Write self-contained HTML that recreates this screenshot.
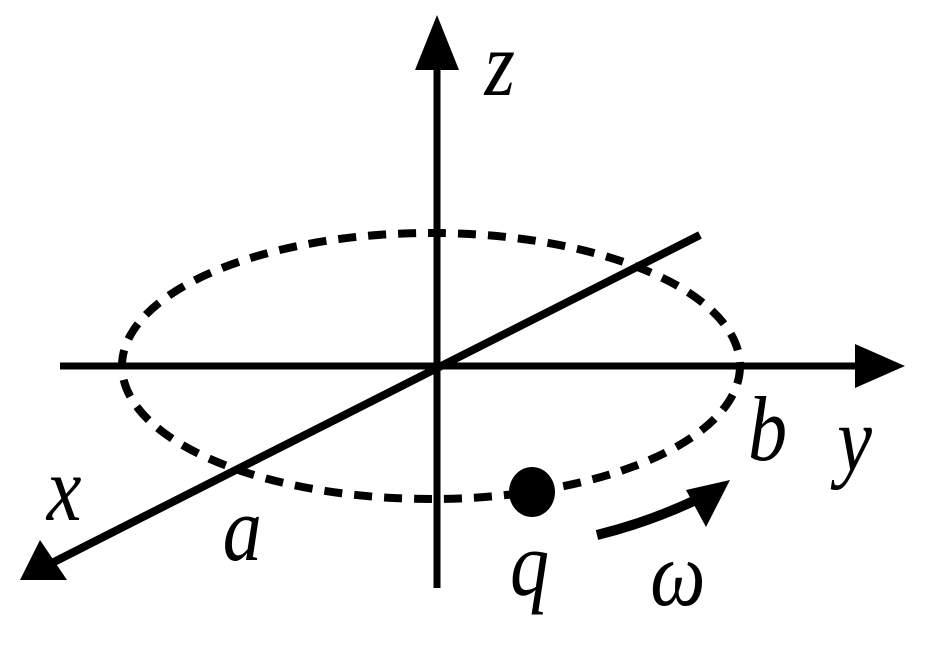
<!DOCTYPE html>
<html><head><meta charset="utf-8"><style>
html,body{margin:0;padding:0;background:#fff;width:925px;height:660px;overflow:hidden}
text{font-family:"Liberation Serif",serif;font-style:italic;fill:#000}
</style></head><body>
<svg width="925" height="660" viewBox="0 0 925 660" xmlns="http://www.w3.org/2000/svg">
<ellipse cx="431" cy="366" rx="309" ry="133" fill="none" stroke="#000" stroke-width="8" stroke-dasharray="18,12"/>
<line x1="437" y1="60" x2="437" y2="588" stroke="#000" stroke-width="7"/>
<polygon points="437,15 415,70 459,70" fill="#000"/>
<line x1="60" y1="366" x2="860" y2="366" stroke="#000" stroke-width="7"/>
<polygon points="905,366 855,344 855,388" fill="#000"/>
<line x1="700" y1="235" x2="50" y2="564" stroke="#000" stroke-width="8"/>
<polygon points="20,580 40,540 67,580" fill="#000"/>
<ellipse cx="532" cy="492" rx="23" ry="25" fill="#000"/>
<path d="M597,535 Q650,522 700,498" fill="none" stroke="#000" stroke-width="10"/>
<polygon points="730,480 706,527 686,490" fill="#000"/>
<g transform="scale(0.85,1)">
<text x="570" y="95" font-size="92">z</text>
<text x="880" y="460" font-size="92">b</text>
<text x="985" y="470" font-size="92">y</text>
<text x="55" y="520" font-size="92">x</text>
<text x="262" y="560" font-size="92">a</text>
<text x="600" y="595" font-size="92">q</text>
<text x="765" y="605" font-size="92">ω</text>
</g>
</svg>
</body></html>
